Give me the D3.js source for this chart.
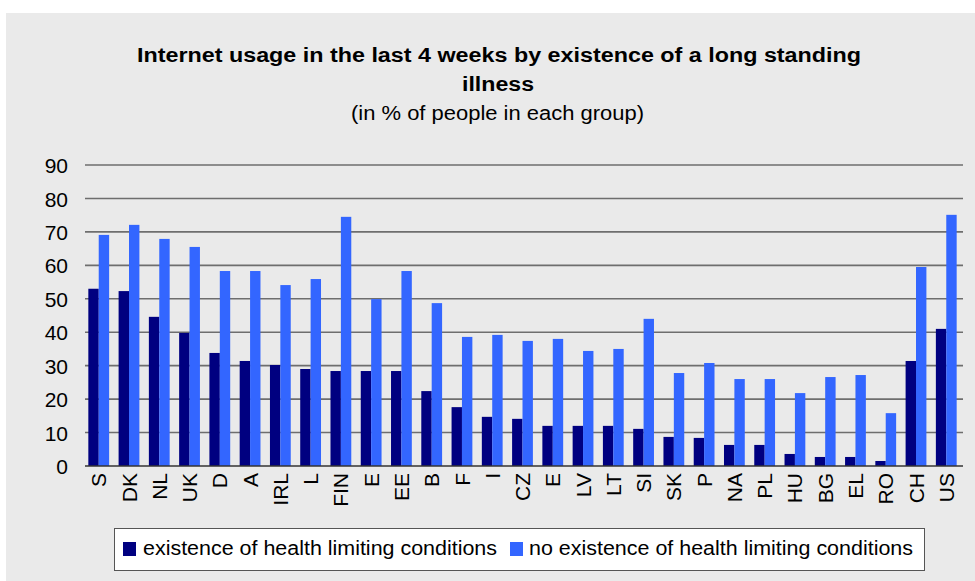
<!DOCTYPE html>
<html>
<head>
<meta charset="utf-8">
<script src="https://cdn.jsdelivr.net/npm/d3@7"></script>
<style>
  html, body { margin: 0; padding: 0; background: #ffffff; }
  svg { display: block; }
  text { font-family: "Liberation Sans", Arial, sans-serif; fill: #000; }
</style>
</head>
<body>
<svg id="chart" width="975" height="581"></svg>
<script>
// Country codes along the x axis
const countries = ["S", "DK", "NL", "UK", "D", "A", "IRL", "L", "FIN", "E", "EE", "B", "F", "I",
  "CZ", "E", "LV", "LT", "SI", "SK", "P", "NA", "PL", "HU", "BG", "EL", "RO", "CH", "US"];

// Share of internet users (%) among people with health limiting conditions
const withCondition = [53, 52.3, 44.6, 39.8, 33.8, 31.4, 30.2, 29.0, 28.4, 28.4, 28.4, 22.4, 17.6, 14.7,
  14.1, 12.0, 12.0, 12.0, 11.1, 8.7, 8.4, 6.3, 6.3, 3.6, 2.7, 2.7, 1.5, 31.4, 41.0];

// Share of internet users (%) among people without such conditions
const withoutCondition = [69.1, 72.1, 67.9, 65.5, 58.3, 58.3, 54.1, 55.9, 74.5, 49.9, 58.3, 48.7, 38.6, 39.2,
  37.4, 38.0, 34.4, 35.0, 44.0, 27.8, 30.8, 26.0, 26.0, 21.8, 26.6, 27.2, 15.8, 59.5, 75.1];

const seriesNames = ["existence of health limiting conditions", "no existence of health limiting conditions"];
const seriesColors = ["#000080", "#3366ff"];
const yTicks = [0, 10, 20, 30, 40, 50, 60, 70, 80, 90];

const svg = d3.select("#chart");

// Grey chart panel
svg.append("rect")
  .attr("x", 6).attr("y", 13).attr("width", 969).attr("height", 568)
  .attr("fill", "#eaeaea");

// Title block
const title = svg.append("g");
title.append("text")
  .attr("x", 499).attr("y", 62).attr("text-anchor", "middle")
  .attr("font-size", 20).attr("font-weight", "bold")
  .attr("textLength", 724).attr("lengthAdjust", "spacingAndGlyphs")
  .text("Internet usage in the last 4 weeks by existence of a long standing");
title.append("text")
  .attr("x", 498).attr("y", 91).attr("text-anchor", "middle")
  .attr("font-size", 20).attr("font-weight", "bold")
  .attr("textLength", 72).attr("lengthAdjust", "spacingAndGlyphs")
  .text("illness");
title.append("text")
  .attr("x", 497.5).attr("y", 120).attr("text-anchor", "middle")
  .attr("font-size", 20)
  .attr("textLength", 293).attr("lengthAdjust", "spacingAndGlyphs")
  .text("(in % of people in each group)");

// Scales
const plotLeft = 85, plotRight = 963;
const y = d3.scaleLinear().domain([0, 90]).range([466, 165]);

const rows = countries.map((label, i) => ({
  key: i,
  label,
  values: [withCondition[i], withoutCondition[i]]
}));

const x0 = d3.scaleBand()
  .domain(rows.map(d => d.key))
  .range([84.7, 960.3])
  .paddingInner(0.313)
  .paddingOuter(0.12);

const x1 = d3.scaleBand()
  .domain([0, 1])
  .range([0, x0.bandwidth()])
  .padding(0);

// Horizontal gridlines
svg.append("g")
  .selectAll("line")
  .data(yTicks.filter(t => t > 0))
  .join("line")
  .attr("x1", plotLeft).attr("x2", plotRight)
  .attr("y1", d => y(d)).attr("y2", d => y(d))
  .attr("stroke", "#6e6e6e").attr("stroke-width", 1.6);

// Y axis tick labels
const yAxis = d3.axisLeft(y).tickValues(yTicks).tickSize(0).tickPadding(0);
const yg = svg.append("g").attr("transform", "translate(68,0)").call(yAxis);
yg.select(".domain").remove();
yg.selectAll("text")
  .attr("font-size", 21)
  .attr("font-family", "Liberation Sans, Arial, sans-serif")
  .attr("fill", "#000")
  .attr("dy", "0.36em");

// Bars
const groups = svg.append("g")
  .selectAll("g")
  .data(rows)
  .join("g")
  .attr("transform", d => `translate(${x0(d.key)},0)`);

groups.selectAll("rect")
  .data(d => d.values.map((v, s) => ({ s, v })))
  .join("rect")
  .attr("x", d => x1(d.s))
  .attr("width", x1.bandwidth())
  .attr("y", d => y(d.v))
  .attr("height", d => y(0) - y(d.v))
  .attr("fill", d => seriesColors[d.s]);

// X axis baseline
svg.append("line")
  .attr("x1", plotLeft).attr("x2", plotRight)
  .attr("y1", y(0)).attr("y2", y(0))
  .attr("stroke", "#333").attr("stroke-width", 1.6);

// Rotated country labels
svg.append("g")
  .selectAll("text")
  .data(rows)
  .join("text")
  .attr("transform", d => `translate(${x0(d.key) + x0.bandwidth() / 2},473) rotate(-90)`)
  .attr("text-anchor", "end")
  .attr("dy", "0.36em")
  .attr("font-size", 21)
  .text(d => d.label);

// Legend
const legend = svg.append("g");
legend.append("rect")
  .attr("x", 114.5).attr("y", 528.5).attr("width", 810).attr("height", 42)
  .attr("fill", "#ffffff").attr("stroke", "#555").attr("stroke-width", 1);

const legendItems = [
  { sx: 123, tx: 143, w: 354 },
  { sx: 510, tx: 529, w: 384 }
];
legendItems.forEach((it, i) => {
  legend.append("rect")
    .attr("x", it.sx).attr("y", 542).attr("width", 13).attr("height", 14)
    .attr("fill", seriesColors[i]);
  legend.append("text")
    .attr("x", it.tx).attr("y", 555)
    .attr("font-size", 20)
    .attr("textLength", it.w).attr("lengthAdjust", "spacingAndGlyphs")
    .text(seriesNames[i]);
});
</script>
</body>
</html>
